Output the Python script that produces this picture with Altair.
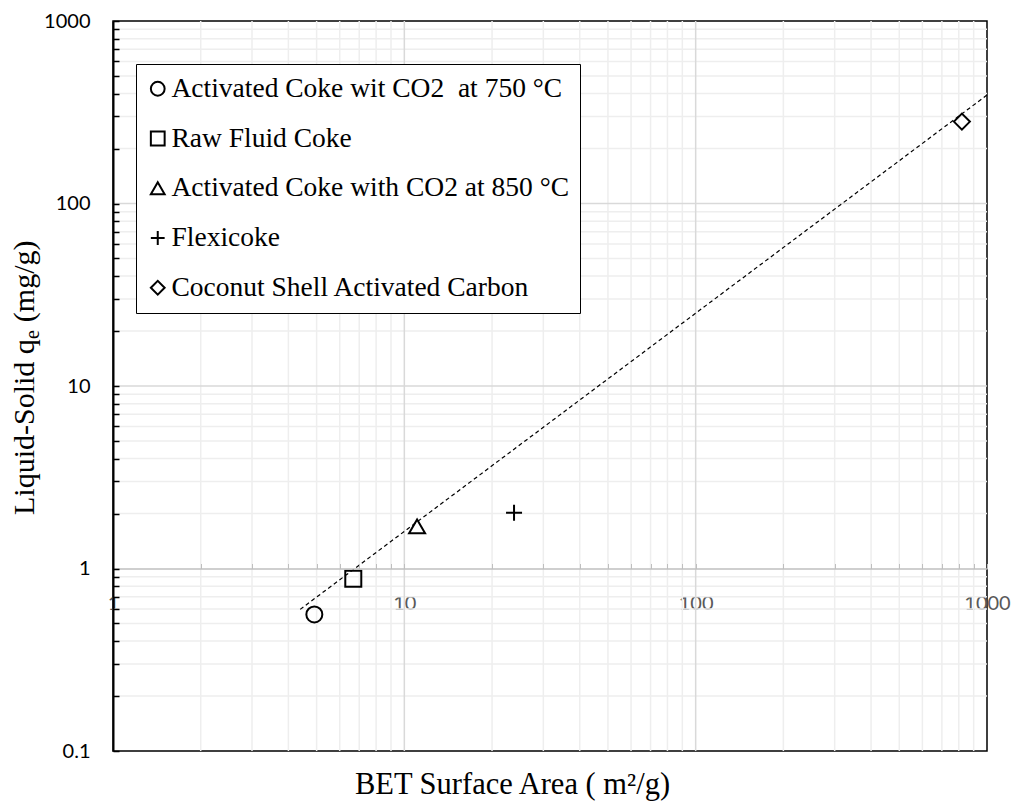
import altair as alt
import pandas as pd

# Samples and their equilibrium uptake
sample_names = [
    "Activated Coke wit CO2\u00a0 at 750 \u00b0C",
    "Raw Fluid Coke",
    "Activated Coke with CO2 at 850 \u00b0C",
    "Flexicoke",
    "Coconut Shell Activated Carbon",
]
bet_area = [4.91, 6.68, 11.06, 23.8, 820.0]       # m2/g
qe_values = [0.56, 0.88, 1.70, 2.02, 281.0]        # mg/g
marker_shapes = ["circle", "square", "triangle-up", "M-1,0L1,0M0,-1L0,1", "diamond"]

# Power-law trend line end points
trend_x = [4.39, 1000.0]
trend_y = [0.597, 393.0]

# Log-axis tick positions
x_ticks = [1, 2, 3, 4, 5, 6, 7, 8, 9,
           10, 20, 30, 40, 50, 60, 70, 80, 90,
           100, 200, 300, 400, 500, 600, 700, 800, 900, 1000]
x_major = [1, 10, 100, 1000]
x_minor_grid = [2, 3, 4, 5, 6, 7, 8, 9,
                20, 30, 40, 50, 60, 70, 80, 90,
                200, 300, 400, 500, 600, 700, 800, 900]
x_major_grid = [10, 100]

y_ticks = [0.1, 0.2, 0.3, 0.4, 0.5, 0.6, 0.7, 0.8, 0.9,
           1, 2, 3, 4, 5, 6, 7, 8, 9,
           10, 20, 30, 40, 50, 60, 70, 80, 90,
           100, 200, 300, 400, 500, 600, 700, 800, 900, 1000]
y_major = [0.1, 1, 10, 100, 1000]
y_minor_grid = [0.2, 0.3, 0.4, 0.5, 0.6, 0.7, 0.8, 0.9,
                2, 3, 4, 5, 6, 7, 8, 9,
                20, 30, 40, 50, 60, 70, 80, 90,
                200, 300, 400, 500, 600, 700, 800, 900]
y_major_grid = [10, 100]

# y-axis title pieces: main text, subscript, units
y_title_main = "Liquid-Solid q"
y_title_sub = "e"
y_title_unit = "(mg/g)"

W, H = 874, 730
x_scale = alt.Scale(type="log", domain=[1, 1000])
y_scale = alt.Scale(type="log", domain=[0.1, 1000])

points = pd.DataFrame({"name": sample_names, "area": bet_area, "qe": qe_values})
trend = pd.DataFrame({"area": trend_x, "qe": trend_y})

SERIF = "Liberation Serif"

# x axis sits on the q = 1 line: ticks pointing up, grey labels below
x_tick_axis = alt.Axis(orient="top", offset=-(H * 3 / 4), values=x_ticks, tickSize=5,
                       tickColor="#bfbfbf", tickWidth=1, domainColor="#bfbfbf",
                       domainWidth=1.5, labels=False, grid=False, title=None, zindex=1)
x_label_axis = alt.Axis(orient="bottom", offset=-(H / 4), values=x_major, ticks=False,
                        domain=False, grid=False, labelColor="#595959", labelFont="Lato",
                        labelFontSize=20, labelPadding=25, labelFlush=False,
                        format="~g", title=None)
x_title_axis = alt.Axis(orient="bottom", labels=False, ticks=False, domain=False,
                        grid=False, title="BET Surface Area ( m\u00b2/g)",
                        titleFont=SERIF, titleFontSize=30.5,
                        titleFontWeight="normal", titleColor="black",
                        titleX=399, titleY=18, titleBaseline="top", titleAlign="center")

# y axis: ticks pointing inward, labels on the left
y_tick_axis = alt.Axis(orient="right", offset=-W, values=y_ticks, tickSize=6,
                       tickColor="black", tickWidth=1.5, domainColor="black",
                       domainWidth=2, labels=False, grid=False, title=None, zindex=1)
y_label_axis = alt.Axis(orient="left", values=y_major, ticks=False, domain=False,
                        grid=False, labelColor="black", labelFont="Lato",
                        labelFontSize=20, labelPadding=23, labelFlush=False,
                        format="~g", title=None)

grid_x_minor = alt.Chart(pd.DataFrame({"v": x_minor_grid})).mark_rule(
    color="#eeeeee", strokeWidth=1.5).encode(
    x=alt.X("v:Q", scale=x_scale, axis=x_tick_axis))
grid_x_major = alt.Chart(pd.DataFrame({"v": x_major_grid})).mark_rule(
    color="#d9d9d9", strokeWidth=1.5).encode(
    x=alt.X("v:Q", scale=x_scale, axis=x_label_axis))
grid_y_minor = alt.Chart(pd.DataFrame({"v": y_minor_grid})).mark_rule(
    color="#eeeeee", strokeWidth=1.5).encode(
    y=alt.Y("v:Q", scale=y_scale, axis=y_tick_axis))
grid_y_major = alt.Chart(pd.DataFrame({"v": y_major_grid})).mark_rule(
    color="#d9d9d9", strokeWidth=1.5).encode(
    y=alt.Y("v:Q", scale=y_scale, axis=y_label_axis))

trend_line = alt.Chart(trend).mark_line(
    color="black", strokeWidth=1.2, strokeDash=[4, 3]).encode(
    x=alt.X("area:Q", scale=x_scale, axis=x_title_axis),
    y=alt.Y("qe:Q", scale=y_scale, axis=None))

scatter = alt.Chart(points).mark_point(
    filled=False, color="black", strokeWidth=2, size=256, opacity=1).encode(
    x=alt.X("area:Q", scale=x_scale, axis=None),
    y=alt.Y("qe:Q", scale=y_scale, axis=None),
    shape=alt.Shape("name:N",
                    scale=alt.Scale(domain=sample_names, range=marker_shapes),
                    sort=sample_names,
                    legend=alt.Legend(orient="none", legendX=23, legendY=43,
                                      title=None, padding=11, rowPadding=20.75,
                                      strokeColor="black", fillColor="white",
                                      labelFont=SERIF, labelFontSize=27.5,
                                      labelColor="black", labelLimit=0, labelOffset=0,
                                      symbolOffset=-3,
                                      symbolSize=190, symbolStrokeWidth=2,
                                      symbolStrokeColor="black",
                                      symbolFillColor="transparent")))


# Rotated y-axis title written as three runs so the "e" can be a subscript
def title_run(text, size, dx, dy):
    return alt.Chart(pd.DataFrame({"t": [text]})).mark_text(
        angle=270, align="left", baseline="alphabetic", font=SERIF,
        fontSize=size, color="black").encode(
        text="t:N", x=alt.value(dx), y=alt.value(dy))


main_len = 175.9   # advance of "Liquid-Solid q" at 30 px
sub_len = 8.9      # advance of "e" at 20 px
gap_len = 8.0      # space before the units
y_start = 494
y_title = alt.layer(
    title_run(y_title_main, 30, -79, y_start),
    title_run(y_title_sub, 20, -74, y_start - main_len),
    title_run(y_title_unit, 30, -79, y_start - main_len - sub_len - gap_len),
)

chart = alt.layer(
    grid_x_minor, grid_y_minor, grid_x_major, grid_y_major, trend_line, scatter, y_title
).resolve_axis(
    x="independent", y="independent"
).properties(
    width=W, height=H,
    autosize=alt.AutoSizeParams(type="none"),
    padding={"left": 113, "top": 21, "right": 26, "bottom": 51},
    background="white",
).configure_view(stroke="black", strokeWidth=1.5)

chart.save("out.html", embed_options={"renderer": "svg", "actions": False})
